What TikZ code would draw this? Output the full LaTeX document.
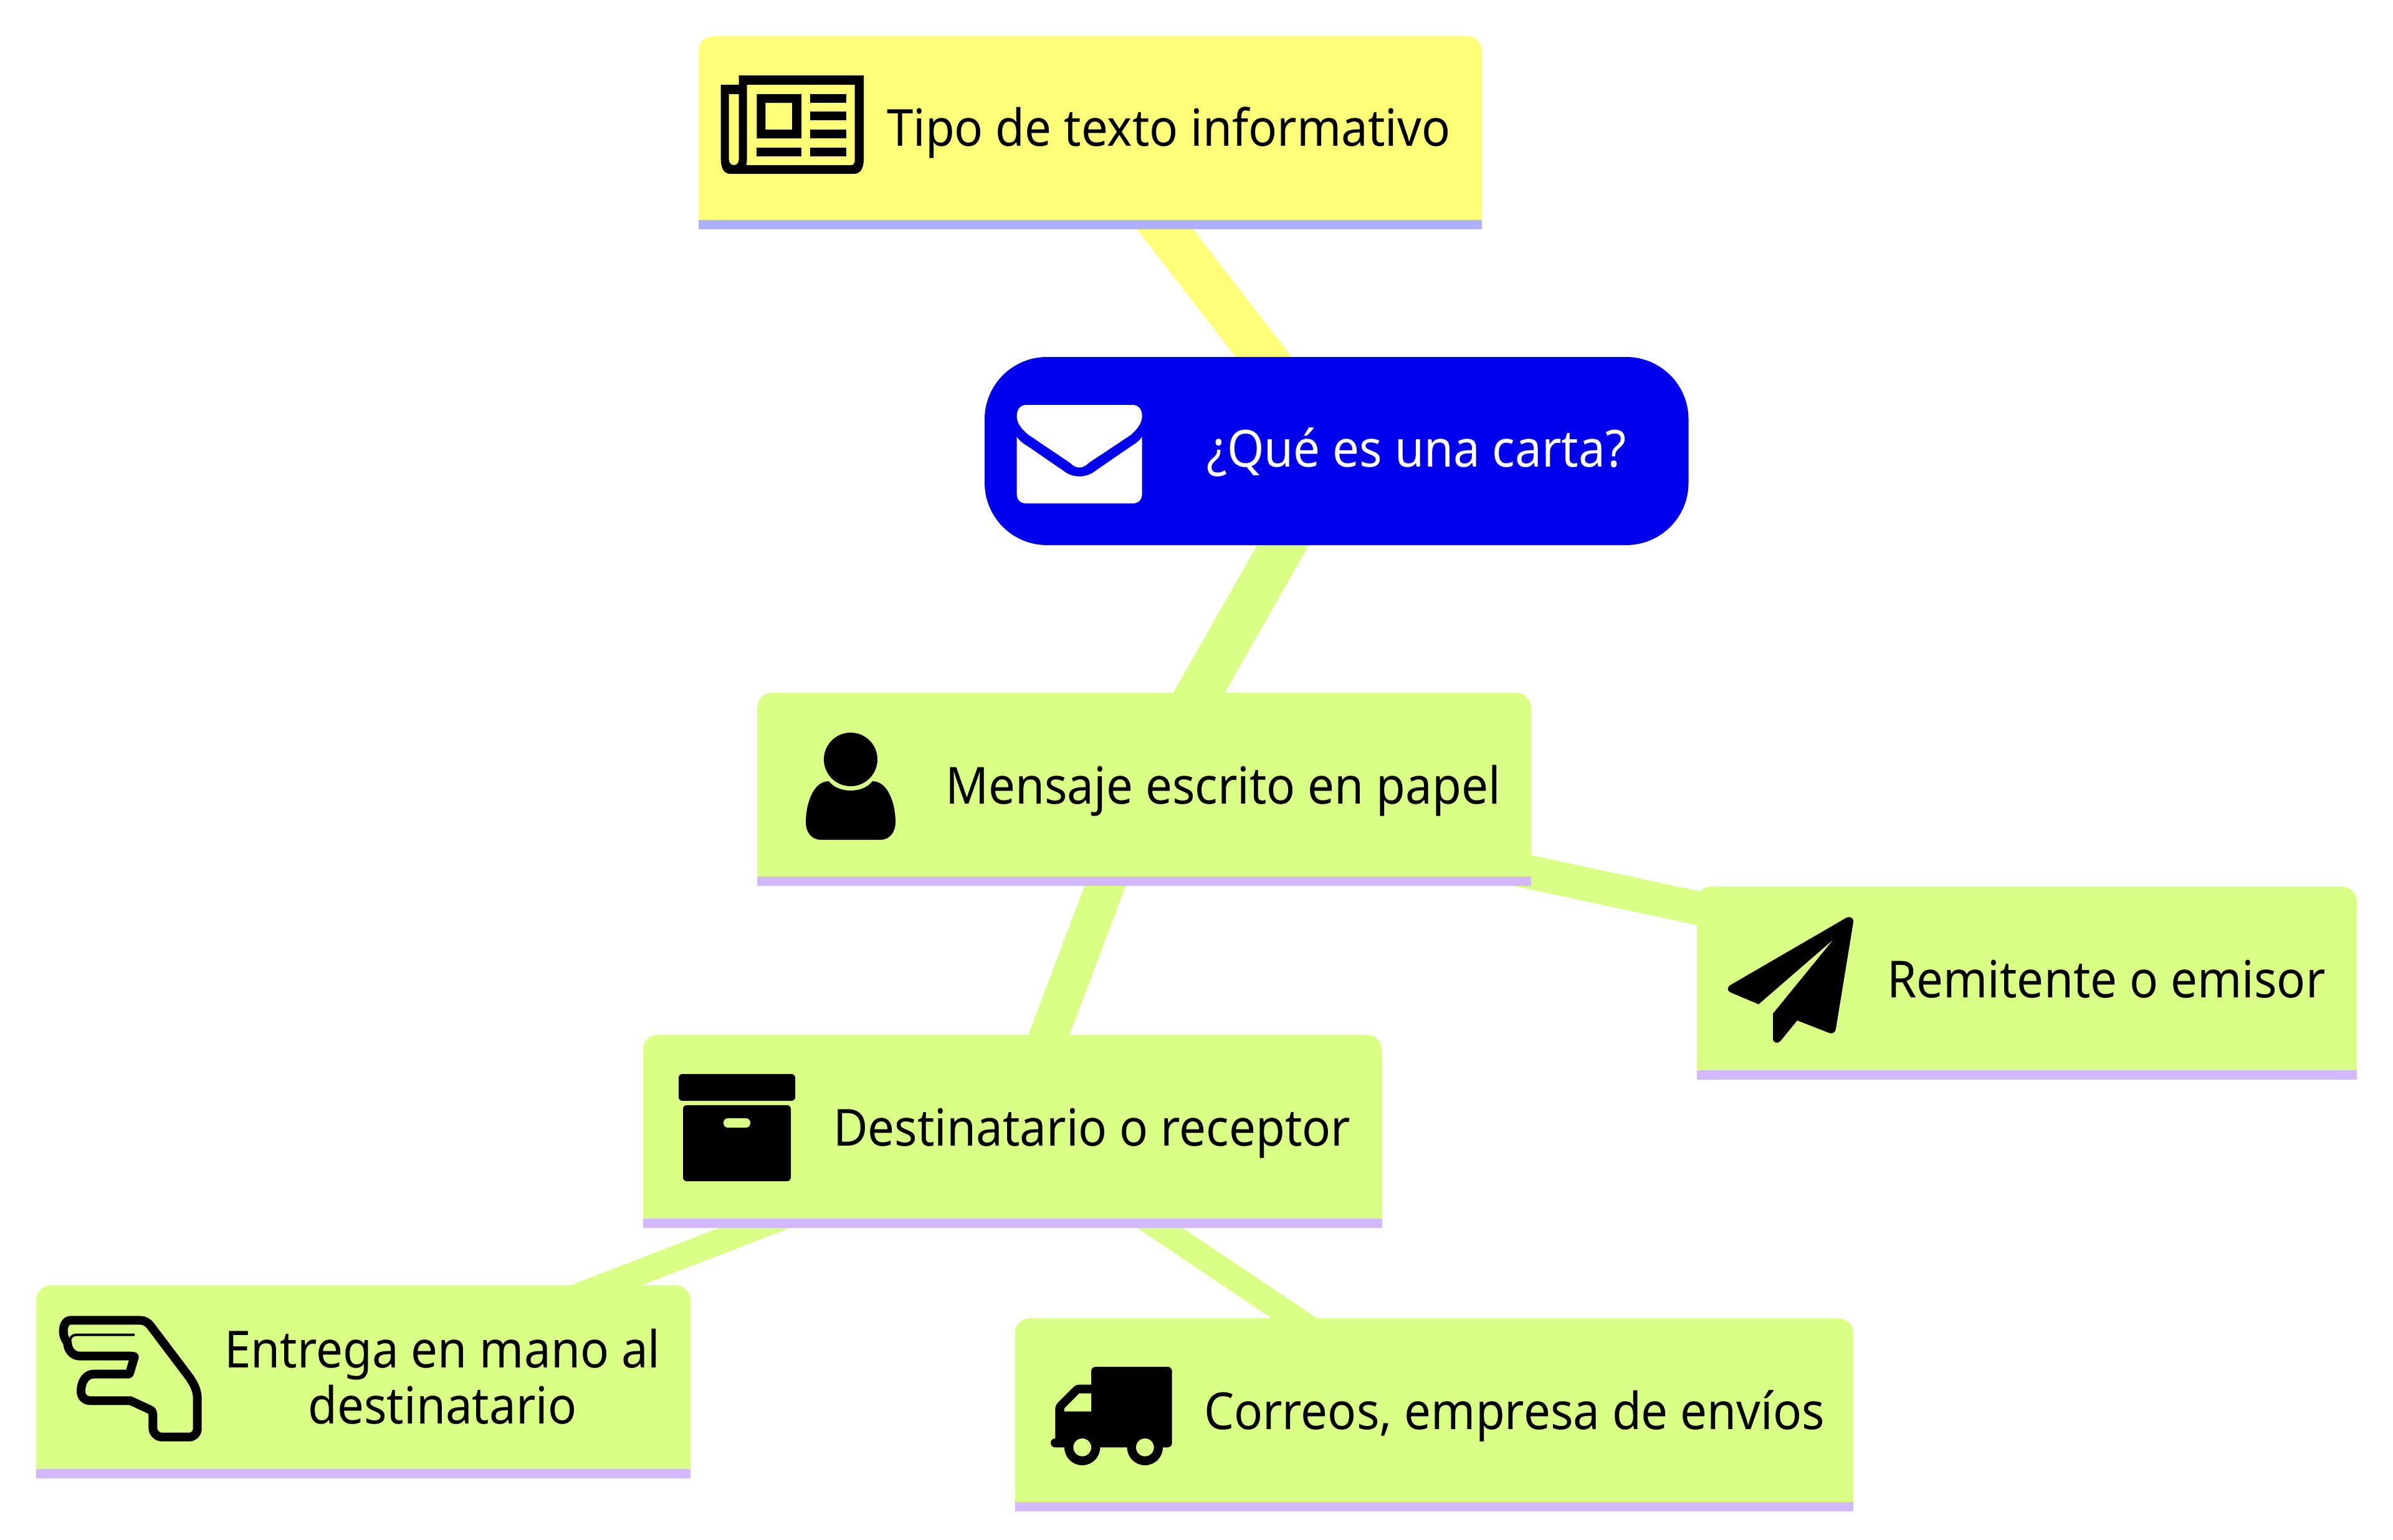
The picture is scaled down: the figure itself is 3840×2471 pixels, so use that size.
\documentclass[tikz,border=0pt]{standalone}
\usepackage{fontspec}
\setmainfont[FakeStretch=0.93]{Noto Sans}
\usetikzlibrary{backgrounds}
\definecolor{yel}{HTML}{FFFF78}
\definecolor{grn}{HTML}{D9FF85}
\definecolor{blu}{HTML}{0000EC}
\definecolor{baryel}{HTML}{AFAFFF}
\definecolor{bargrn}{HTML}{D2B9FF}
\tikzset{
  boxnode/.style={rectangle,inner sep=0pt,outer sep=0pt,rounded corners=24pt},
  label/.style={inner sep=0pt,outer sep=0pt,anchor=base west,font=\fontsize{82}{90}\selectfont,text=black},
  edge/.style={line cap=butt},
}
% name, colour, bar colour
\newcommand{\finishbox}[3]{%
  \fill[#2] (#1.south west) rectangle ([yshift=50pt]#1.south east);
  \fill[#3] (#1.south west) rectangle ([yshift=15pt]#1.south east);
}
\begin{document}
\begin{tikzpicture}[x=1pt,y=-1pt]
\useasboundingbox (0,0) rectangle (3840,2471);
% nodes
\node[boxnode,fill=yel,minimum width=1257pt,minimum height=310pt] (tipo) at (1749.5,213) {};
\finishbox{tipo}{yel}{baryel}
\node[boxnode,fill=blu,rounded corners=100pt,minimum width=1129.5pt,minimum height=302pt] (carta) at (2144.75,724) {};
\node[boxnode,fill=grn,minimum width=1242pt,minimum height=310pt] (mensaje) at (1836,1267) {};
\finishbox{mensaje}{grn}{bargrn}
\node[boxnode,fill=grn,minimum width=1059pt,minimum height=310pt] (remitente) at (3252.5,1578) {};
\finishbox{remitente}{grn}{bargrn}
\node[boxnode,fill=grn,minimum width=1185.5pt,minimum height=310pt] (destino) at (1624.75,1816) {};
\finishbox{destino}{grn}{bargrn}
\node[boxnode,fill=grn,minimum width=1050pt,minimum height=310pt] (entrega) at (583,2218) {};
\finishbox{entrega}{grn}{bargrn}
\node[boxnode,fill=grn,minimum width=1345.4pt,minimum height=310pt] (correos) at (2301.3,2271) {};
\finishbox{correos}{grn}{bargrn}
% connectors
\begin{pgfonlayer}{background}
\fill[white] (0,0) rectangle (3840,2471);
\draw[edge,yel,line width=71pt] (tipo.center) -- (carta.center);
\draw[edge,grn,line width=72pt] (carta.center) -- (mensaje.center);
\draw[edge,grn,line width=62pt] ([xshift=-4pt]mensaje.center) -- (destino.center);
\draw[edge,grn,line width=54pt] (mensaje.center) -- ([yshift=7pt]remitente.center);
\draw[edge,grn,line width=41pt] ([xshift=-12pt]destino.center) -- ([xshift=-12pt]entrega.center);
\draw[edge,grn,line width=40.7pt] ([xshift=6pt]destino.center) -- ([xshift=6pt]correos.center);
\end{pgfonlayer}
% labels
\node[label] (ltipo) at (1423,234) {Tipo de texto informativo};
\node[label,text=white] (lcarta) at (1936,749) {¿Qué es una carta?};
\node[label] (lmensaje) at (1517,1290) {Mensaje escrito en papel};
\node[label] (lremitente) at (3028,1601) {Remitente o emisor};
\node[label] (ldestino) at (1337,1839) {Destinatario o receptor};
\node[label,anchor=base,align=center] (lentrega) at (710,2285) {Entrega en mano al\\destinatario};
\node[label] (lcorreos) at (1932,2294) {Correos, empresa de envíos};
% newspaper icon
\begin{scope}[shift={(5.5,0)},xscale=.995]
\fill[black,even odd rule]
  (1157,136) -- (1186,136) -- (1186,121) -- (1387.5,121) -- (1387.5,255)
  .. controls (1387.5,270) and (1382,279) .. (1372,279) -- (1172,279)
  .. controls (1162,279) and (1157,270) .. (1157,255) -- cycle
  (1170,151) -- (1186,151) -- (1186,256) .. controls (1186,261) and (1183,265) .. (1178,265)
  .. controls (1173,265) and (1170,261) .. (1170,256) -- cycle
  (1199,136) -- (1373,136) -- (1373,258) .. controls (1373,262) and (1371,265) .. (1367,265)
  -- (1198,265) .. controls (1199,262) and (1199,260) .. (1199,256) -- cycle
  (1215,151) rectangle (1287,222)
  (1229,165) rectangle (1272,208);
\fill[black] (1301,151) rectangle (1359,165);
\fill[black] (1301,179) rectangle (1359,193);
\fill[black] (1301,208) rectangle (1359,222);
\fill[black] (1301,237) rectangle (1359,251);
\fill[black] (1215,237) rectangle (1287,251);
\end{scope}
% envelope icon
\begin{scope}[shift={(8,0)},xscale=.99487]
\fill[white]
  (1632,668) .. controls (1632,657) and (1638,650) .. (1647,650) -- (1819,650)
  .. controls (1828,650) and (1834,657) .. (1834,668)
  .. controls (1834,680) and (1825,690) .. (1816,698) -- (1748,743)
  .. controls (1738,753) and (1728,753) .. (1718,743) -- (1651,698)
  .. controls (1641,690) and (1632,680) .. (1632,668) -- cycle;
\fill[white]
  (1632,701) .. controls (1636,708) and (1644,713) .. (1652,718) -- (1706,755)
  .. controls (1722,768) and (1744,768) .. (1760,755) -- (1814,718)
  .. controls (1822,713) and (1830,708) .. (1834,701) -- (1834,793)
  .. controls (1834,802) and (1828,808) .. (1819,808) -- (1647,808)
  .. controls (1638,808) and (1632,802) .. (1632,793) -- cycle;
\end{scope}
% person icon
\fill[black] (1365,1219) circle (43);
\fill[black] (1330,1254) .. controls (1345,1274) and (1385,1274) .. (1400,1254)
  .. controls (1425,1254) and (1437,1290) .. (1437,1320)
  .. controls (1437,1335) and (1428,1348) .. (1413,1348) -- (1317,1348)
  .. controls (1302,1348) and (1293,1335) .. (1293,1320)
  .. controls (1293,1290) and (1305,1254) .. (1330,1254) -- cycle;
% paper plane icon
\fill[black] (2777,1581) -- (2963,1473) .. controls (2969,1470) and (2975,1474) .. (2974,1480)
  -- (2946,1651) .. controls (2945,1658) and (2940,1660) .. (2935,1658)
  -- (2884,1638) -- (2857,1671) .. controls (2853,1676) and (2845,1674) .. (2845,1667)
  -- (2845,1627) -- (2942,1508) -- (2822,1612) -- (2777,1593)
  .. controls (2771,1590) and (2771,1585) .. (2777,1581) -- cycle;
% archive box icon
\fill[black,rounded corners=6pt] (1089,1724) rectangle (1276,1767);
\fill[black,rounded corners=6pt] (1096,1774) rectangle (1269,1896);
\fill[grn,rounded corners=7pt] (1161,1795) rectangle (1204,1810);
% hand icon
\draw[black,line width=14pt,line join=round]
  (113.3,2119.3) -- (225,2119.3) .. controls (232,2119.3) and (238,2123) .. (241.7,2128.3)
  -- (303.3,2210) .. controls (312,2222) and (316.7,2233) .. (316.7,2245) -- (316.7,2293.3)
  .. controls (316.7,2301) and (311,2306.7) .. (303.3,2306.7) -- (260,2306.7)
  .. controls (252,2306.7) and (245.3,2300) .. (245.3,2291.7) -- (245.3,2270)
  .. controls (245.3,2267) and (244,2264.5) .. (241.7,2263.3) -- (209.3,2248.3) -- (145,2248.3)
  .. controls (136,2248.3) and (130,2242) .. (130,2233.3)
  .. controls (130,2218) and (138,2205.7) .. (150,2205.7) -- (205,2205.7)
  .. controls (207,2205.7) and (208,2205) .. (208.3,2203.3) -- (215.7,2178.3)
  .. controls (216,2177) and (212,2176.7) .. (210,2176.7) -- (128.3,2176.7)
  .. controls (116,2176.7) and (108.3,2166) .. (108.3,2155)
  .. controls (103,2148) and (101.7,2143) .. (101.7,2136.7)
  .. controls (101.7,2127) and (106,2119.3) .. (113.3,2119.3) -- cycle;
\draw[black,line width=4pt] (216,2142.7) -- (122,2142.7) .. controls (116,2142.7) and (113,2147) .. (112,2152);
% truck icon
\fill[black,rounded corners=7pt] (1751,2194) rectangle (1880.7,2323.3);
\fill[black] (1751,2222.7) -- (1731.7,2222.7) .. controls (1728,2222.7) and (1724.5,2224.5) .. (1721.7,2227.3)
  -- (1698.3,2250.7) .. controls (1695,2254) and (1693.3,2258) .. (1693.3,2261.7)
  -- (1693.3,2309) .. controls (1689,2309) and (1686,2312) .. (1686,2316)
  .. controls (1686,2320) and (1689,2323.3) .. (1693.3,2323.3) -- (1760,2323.3) -- cycle;
\fill[grn] (1751,2236.7) -- (1731.7,2236.7) -- (1708,2260.7) -- (1708,2265.7) -- (1751,2265.7) -- cycle;
\fill[black] (1736.7,2323.3) circle (28.7);
\fill[black] (1837.3,2323.3) circle (28.7);
\fill[grn] (1736.7,2323.3) circle (14.3);
\fill[grn] (1837.3,2323.3) circle (14.3);
\end{tikzpicture}
\end{document}
